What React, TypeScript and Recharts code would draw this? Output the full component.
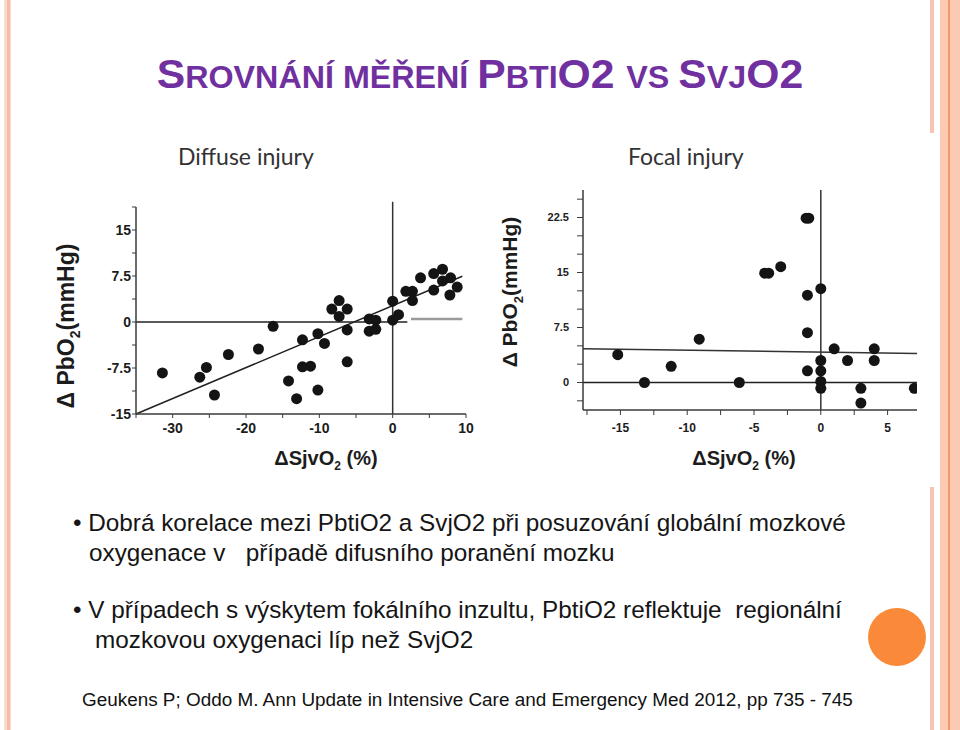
import React from "react";
import { ScatterChart, Scatter, XAxis, YAxis, ReferenceLine } from "recharts";

// Diffuse injury: ΔSjvO2 (%) vs ΔPbO2 (mmHg)
const diffuseX = [
  -31.4, -26.3, -25.4, -24.3, -22.4, -18.3, -16.3, -14.2, -13.1, -12.3,
  -12.3, -11.2, -10.2, -10.2, -9.3, -8.3, -7.3, -7.3, -6.2, -6.2,
  -6.2, -3.2, -3.2, -2.3, -2.3, 0, 0, 0.8, 1.8, 2.7,
  2.7, 3.8, 5.6, 5.6, 6.8, 6.8, 7.9, 7.8, 8.8,
];
const diffuseY = [
  -8.3, -9.0, -7.4, -11.9, -5.3, -4.4, -0.7, -9.6, -12.5, -2.9,
  -7.3, -7.2, -1.9, -11.1, -3.5, 2.1, 3.5, 0.9, 2.1, -1.3,
  -6.5, 0.5, -1.5, 0.3, -1.2, 3.4, 0.3, 1.2, 5.0, 5.0,
  3.5, 7.2, 7.9, 5.2, 8.6, 6.7, 7.2, 4.4, 5.7,
];

// Focal injury
const focalX = [
  -15.2, -13.2, -11.2, -9.1, -6.1, -4.2, -3.9, -3.0, -1.1, -0.9,
  -1.0, -1.0, -1.0, 0, 0, 0, 0, 0, 1.0, 2.0,
  3.0, 3.0, 4.0, 4.0, 7.0,
];
const focalY = [
  3.8, 0, 2.2, 5.9, 0, 14.9, 14.9, 15.8, 22.4, 22.4,
  11.9, 6.8, 1.6, 12.8, 3.0, 1.6, 0.15, -0.8, 4.6, 3.0,
  -0.8, -2.8, 4.6, 3.0, -0.8,
];

const diffuseXTicks = [-35, -30, -25, -20, -15, -10, -5, 0, 5, 10];
const diffuseXLabels = [-30, -20, -10, 0, 10];
const diffuseYTicks = [-15, -11.25, -7.5, -3.75, 0, 3.75, 7.5, 11.25, 15, 18.75];
const diffuseYLabels = [-15, -7.5, 0, 7.5, 15];

const focalXTicks = [-17.5, -15, -12.5, -10, -7.5, -5, -2.5, 0, 2.5, 5];
const focalXLabels = [-15, -10, -5, 0, 5];
const focalYTicks = [-2.5, 0, 2.5, 5, 7.5, 10, 12.5, 15, 17.5, 20, 22.5, 25];
const focalYLabels = [0, 7.5, 15, 22.5];

const diffuseFit = [{ x: -35, y: -15 }, { x: 9.5, y: 7.45 }];
const diffuseZero = [{ x: -35, y: 0 }, { x: 2, y: 0 }];
const diffuseGrey = [{ x: 2.5, y: 0.5 }, { x: 9.5, y: 0.5 }];
const diffuseVert = [{ x: 0, y: -15 }, { x: 0, y: 19.6 }];
const focalFit = [{ x: -17.8, y: 4.6 }, { x: 7.2, y: 3.95 }];

const toPoints = (xs: number[], ys: number[]) => xs.map((x, i) => ({ x, y: ys[i] }));
const diffuseData = toPoints(diffuseX, diffuseY);
const focalData = toPoints(focalX, focalY);

const Dot = (props: any) => {
  const { cx, cy } = props;
  return <circle cx={cx} cy={cy} r={5.5} fill="#141414" />;
};

const fmt = (labels: number[]) => (v: number) => (labels.includes(v) ? String(v) : "");

const axisLine = { stroke: "#3a3a3a", strokeWidth: 1.5 };
const ink = "#1c1c1c";

const boldFont = "'Liberation Sans', Arial, sans-serif";

function Title() {
  const big = { fontSize: 41 };
  const small = { fontSize: 31 };
  return (
    <div
      style={{
        position: "absolute",
        left: 0,
        width: 960,
        top: 51,
        textAlign: "center",
        color: "#7030a0",
        fontWeight: 700,
        fontFamily: boldFont,
        whiteSpace: "pre",
        lineHeight: "46px",
        transform: "scaleX(1.04)",
        transformOrigin: "481px 0",
      }}
    >
      <span style={big}>S</span>
      <span style={small}>ROVNÁNÍ MĚŘENÍ </span>
      <span style={big}>P</span>
      <span style={small}>BTI</span>
      <span style={big}>O2 </span>
      <span style={small}>VS </span>
      <span style={big}>S</span>
      <span style={small}>VJ</span>
      <span style={big}>O2</span>
    </div>
  );
}

function AxisText({ left, top, size, rotate, children }: any) {
  return (
    <div
      style={{
        position: "absolute",
        left,
        top,
        transform: `translate(-50%, -50%)${rotate ? " rotate(-90deg)" : ""}`,
        fontFamily: boldFont,
        fontWeight: 700,
        fontSize: size,
        color: ink,
        whiteSpace: "nowrap",
      }}
    >
      {children}
    </div>
  );
}

function ChartTitle({ left, top, children }: any) {
  return (
    <div
      style={{
        position: "absolute",
        left,
        top,
        fontFamily: "Lato, 'Open Sans', sans-serif",
        fontSize: 23,
        color: "#333",
        whiteSpace: "nowrap",
      }}
    >
      {children}
    </div>
  );
}

export default function App() {
  const textStyle: React.CSSProperties = {
    position: "absolute",
    fontFamily: boldFont,
    fontSize: 24.3,
    color: "#151515",
    whiteSpace: "pre",
    lineHeight: "28px",
  };
  return (
    <div
      style={{
        position: "absolute",
        left: 0,
        top: 0,
        width: 960,
        height: 730,
        background: "#fff",
        overflow: "hidden",
      }}
    >
      {/* decorative stripes */}
      <div style={{ position: "absolute", left: 4, top: 0, width: 7, height: 730, background: "#fbdccd" }} />
      <div style={{ position: "absolute", left: 7, top: 0, width: 3, height: 730, background: "#f7bca5" }} />
      <div style={{ position: "absolute", left: 930, top: 0, width: 4, height: 133, background: "#f6c4b0" }} />
      <div style={{ position: "absolute", left: 930, top: 487, width: 4, height: 243, background: "#f6c4b0" }} />
      <div style={{ position: "absolute", left: 940, top: 0, width: 20, height: 730, background: "#fcc9b2" }} />
      <div style={{ position: "absolute", left: 948, top: 0, width: 1.5, height: 730, background: "#ef9a68" }} />
      <div
        style={{
          position: "absolute",
          left: 897 - 29,
          top: 637 - 29,
          width: 58,
          height: 58,
          borderRadius: "50%",
          background: "#fa8a3a",
        }}
      />

      <Title />

      {/* Diffuse injury */}
      <ChartTitle left={178} top={142}>Diffuse injury</ChartTitle>
      <div style={{ position: "absolute", left: 86, top: 180 }}>
        <ScatterChart width={400} height={300} margin={{ top: 27, right: 20, bottom: 36, left: 0 }}>
          <XAxis
            type="number"
            dataKey="x"
            domain={[-35, 10]}
            ticks={diffuseXTicks}
            interval={0}
            tickFormatter={fmt(diffuseXLabels)}
            allowDataOverflow
            height={30}
            axisLine={axisLine}
            tickLine={{ stroke: "#3a3a3a" }}
            tickSize={4}
            tickMargin={5}
            tick={{ fontSize: 14, fontWeight: 700, fill: ink, fontFamily: boldFont }}
          />
          <YAxis
            type="number"
            dataKey="y"
            domain={[-15, 18.75]}
            ticks={diffuseYTicks}
            interval={0}
            tickFormatter={fmt(diffuseYLabels)}
            allowDataOverflow
            width={50}
            axisLine={axisLine}
            tickLine={{ stroke: "#3a3a3a" }}
            tickSize={4}
            tickMargin={1}
            tick={{ fontSize: 14, fontWeight: 700, fill: ink, fontFamily: boldFont }}
          />
          <ReferenceLine segment={diffuseVert} stroke="#333" strokeWidth={1.5} ifOverflow="visible" />
          <ReferenceLine segment={diffuseZero} stroke="#222" strokeWidth={1.5} ifOverflow="visible" />
          <ReferenceLine segment={diffuseGrey} stroke="#9a9a9a" strokeWidth={2.5} ifOverflow="visible" />
          <ReferenceLine segment={diffuseFit} stroke="#222" strokeWidth={1.5} ifOverflow="visible" />
          <Scatter data={diffuseData} shape={<Dot />} isAnimationActive={false} />
        </ScatterChart>
      </div>
      <AxisText left={326} top={460} size={20}>
        ΔSjvO<sub style={{ fontSize: 12 }}>2</sub> (%)
      </AxisText>
      <AxisText left={68} top={326} size={23} rotate>
        Δ PbO<sub style={{ fontSize: 14 }}>2</sub>(mmHg)
      </AxisText>

      {/* Focal injury */}
      <ChartTitle left={628} top={142}>Focal injury</ChartTitle>
      <div style={{ position: "absolute", left: 520, top: 160 }}>
        <ScatterChart width={420} height={320} margin={{ top: 30, right: 23, bottom: 40, left: 0 }}>
          <XAxis
            type="number"
            dataKey="x"
            domain={[-17.8, 7.2]}
            ticks={focalXTicks}
            interval={0}
            tickFormatter={fmt(focalXLabels)}
            allowDataOverflow
            height={30}
            axisLine={axisLine}
            tickLine={{ stroke: "#3a3a3a" }}
            tickSize={5}
            tickMargin={8}
            tick={{ fontSize: 12, fontWeight: 700, fill: ink, fontFamily: boldFont }}
          />
          <YAxis
            type="number"
            dataKey="y"
            domain={[-3.75, 26.25]}
            ticks={focalYTicks}
            interval={0}
            tickFormatter={fmt(focalYLabels)}
            allowDataOverflow
            width={63}
            axisLine={axisLine}
            tickLine={{ stroke: "#3a3a3a" }}
            tickSize={6}
            tickMargin={8}
            tick={{ fontSize: 11, fontWeight: 700, fill: ink, fontFamily: boldFont }}
          />
          <ReferenceLine x={0} stroke="#333" strokeWidth={1.5} />
          <ReferenceLine y={0} stroke="#222" strokeWidth={1.5} />
          <ReferenceLine segment={focalFit} stroke="#333" strokeWidth={1.5} ifOverflow="visible" />
          <Scatter data={focalData} shape={<Dot />} isAnimationActive={false} />
        </ScatterChart>
      </div>
      <AxisText left={744} top={460} size={20}>
        ΔSjvO<sub style={{ fontSize: 12 }}>2</sub> (%)
      </AxisText>
      <AxisText left={512} top={292} size={21} rotate>
        Δ PbO<sub style={{ fontSize: 13 }}>2</sub>(mmHg)
      </AxisText>

      {/* bullets */}
      <div style={{ ...textStyle, left: 73, top: 509 }}>
        {"• Dobrá korelace mezi PbtiO2 a SvjO2 při posuzování globální mozkové"}
      </div>
      <div style={{ ...textStyle, left: 89, top: 539 }}>
        {"oxygenace v   případě difusního poranění mozku"}
      </div>
      <div style={{ ...textStyle, left: 73, top: 596 }}>
        {"• V případech s výskytem fokálního inzultu, PbtiO2 reflektuje  regionální"}
      </div>
      <div style={{ ...textStyle, left: 95, top: 626 }}>
        {"mozkovou oxygenaci líp než SvjO2"}
      </div>
      <div style={{ ...textStyle, left: 82, top: 688, fontSize: 18.9, lineHeight: "24px", color: "#111" }}>
        {"Geukens P; Oddo M. Ann Update in Intensive Care and Emergency Med 2012, pp 735 - 745"}
      </div>
    </div>
  );
}
